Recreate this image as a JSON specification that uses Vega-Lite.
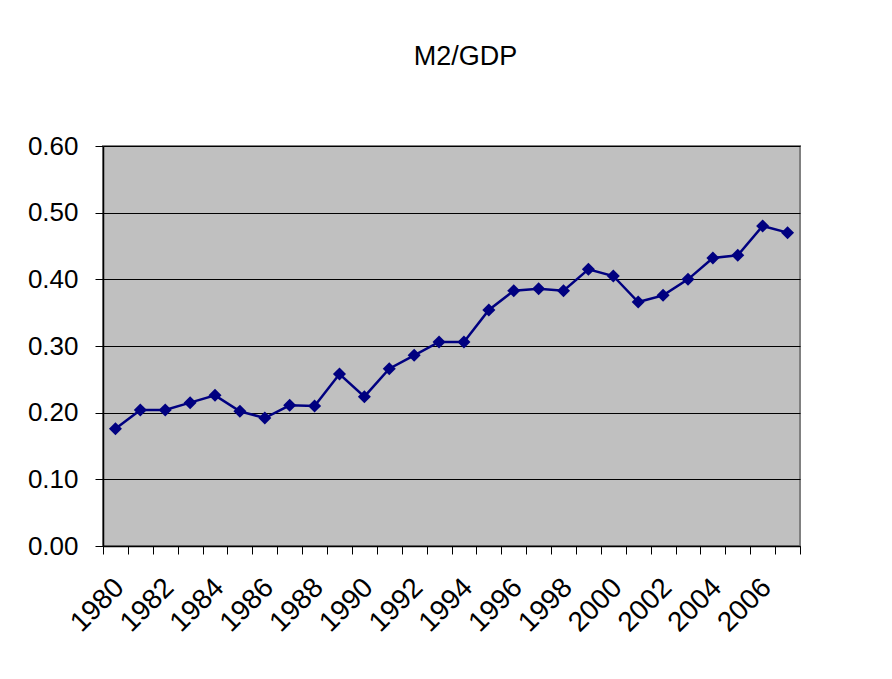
{
  "$schema": "https://vega.github.io/schema/vega-lite/v6.json",
  "width": 697,
  "height": 400,
  "autosize": "none",
  "padding": {"left": 103, "top": 146, "right": 92, "bottom": 133},
  "background": "white",
  "title": {"text": "M2/GDP", "font": "Liberation Sans", "fontSize": 27, "fontWeight": "normal", "color": "black", "anchor": "middle", "dx": 14, "offset": 62},
  "config": {
    "view": {"fill": "#C0C0C0", "stroke": "#808080", "strokeWidth": 2},
    "axis": {"labelFont": "Liberation Sans", "labelFontSize": 26, "labelColor": "black", "domainColor": "black", "tickColor": "black", "title": null}
  },
  "data": {"values": [
    {"year": 1980, "value": 0.176},
    {"year": 1981, "value": 0.204},
    {"year": 1982, "value": 0.204},
    {"year": 1983, "value": 0.215},
    {"year": 1984, "value": 0.226},
    {"year": 1985, "value": 0.202},
    {"year": 1986, "value": 0.192},
    {"year": 1987, "value": 0.211},
    {"year": 1988, "value": 0.210},
    {"year": 1989, "value": 0.258},
    {"year": 1990, "value": 0.224},
    {"year": 1991, "value": 0.266},
    {"year": 1992, "value": 0.286},
    {"year": 1993, "value": 0.306},
    {"year": 1994, "value": 0.306},
    {"year": 1995, "value": 0.354},
    {"year": 1996, "value": 0.383},
    {"year": 1997, "value": 0.386},
    {"year": 1998, "value": 0.383},
    {"year": 1999, "value": 0.415},
    {"year": 2000, "value": 0.405},
    {"year": 2001, "value": 0.366},
    {"year": 2002, "value": 0.376},
    {"year": 2003, "value": 0.400},
    {"year": 2004, "value": 0.432},
    {"year": 2005, "value": 0.436},
    {"year": 2006, "value": 0.480},
    {"year": 2007, "value": 0.470}
  ]},
  "mark": {"type": "line", "color": "#000080", "strokeWidth": 2.5, "point": {"shape": "diamond", "size": 170, "filled": true, "color": "#000080", "opacity": 1}},
  "encoding": {
    "x": {
      "field": "year", "type": "ordinal",
      "scale": {"type": "band", "paddingInner": 0, "paddingOuter": 0},
      "axis": {"labelAngle": -45, "labelAlign": "right", "labelBaseline": "middle", "labelPadding": 29, "labelOffset": 4, "labelFontSize": 28, "tickBand": "extent", "tickSize": 8, "domainWidth": 1.5, "labelExpr": "datum.value % 2 == 0 ? datum.label : ''", "grid": false, "labelOverlap": false}
    },
    "y": {
      "field": "value", "type": "quantitative",
      "scale": {"domain": [0, 0.6], "nice": false, "zero": true},
      "axis": {"values": [0, 0.1, 0.2, 0.3, 0.4, 0.5, 0.6], "format": ".2f", "grid": true, "gridColor": "black", "gridWidth": 1, "gridOpacity": 1, "tickSize": 8, "labelPadding": 17, "domainWidth": 1.5}
    }
  }
}
